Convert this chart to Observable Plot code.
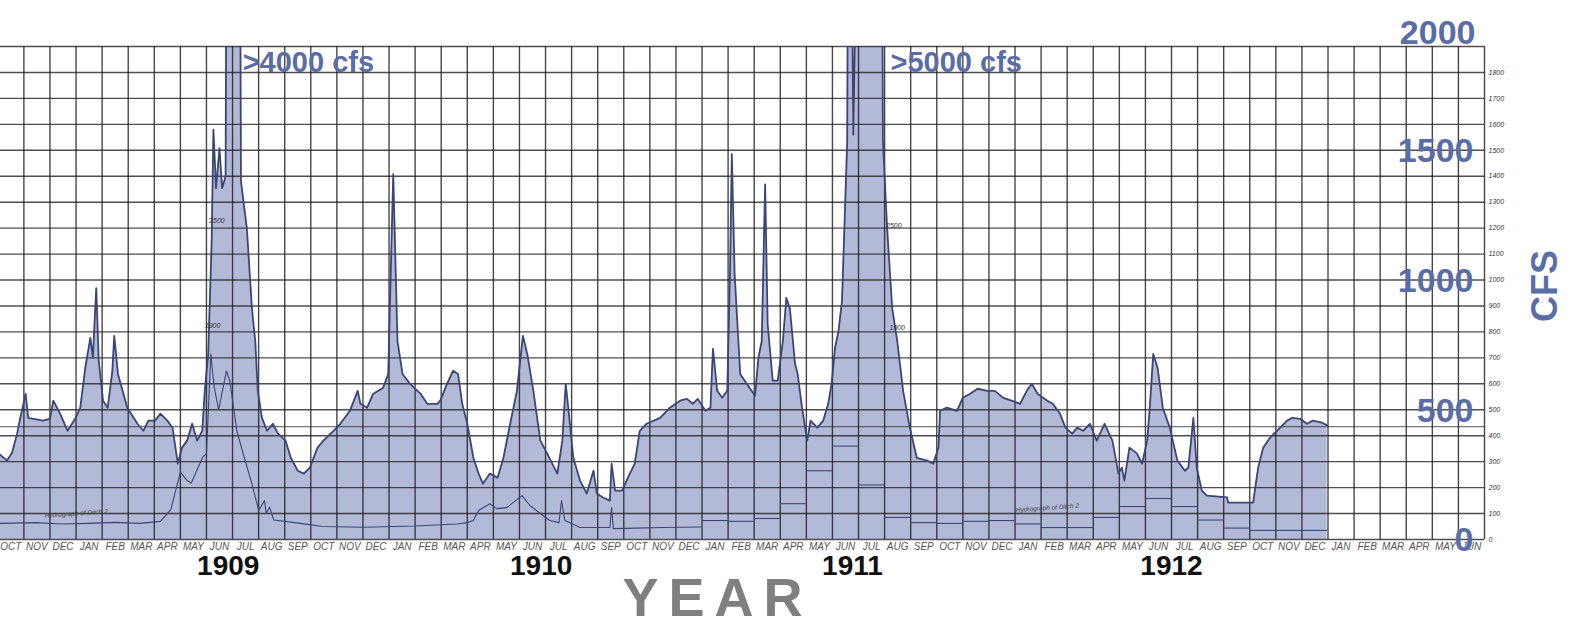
<!DOCTYPE html>
<html><head><meta charset="utf-8">
<script src="https://cdn.jsdelivr.net/npm/d3@7"></script>
<script src="https://cdn.jsdelivr.net/npm/@observablehq/plot@0.6"></script>
<style>body{margin:0;background:#fff;} svg{display:block}</style>
</head><body><div id="chart"></div>
<script>
// ---- month / year labels ----
const monthNames = ["OCT","NOV","DEC","JAN","FEB","MAR","APR","MAY","JUN","JUL","AUG","SEP"];
const monthCount = 57; // Oct 1908 .. Jun 1913
const yearLabels = ["1909","1910","1911","1912"];
const yearLabelDates = ["1909-06-26","1910-06-26","1911-06-24","1912-07-01"];
const cfsGrid = d3.range(0, 2000, 100);
const cfsTickLabels = d3.range(0, 1900, 100);
const bigCfsLabels = [1500, 1000, 500, 0];

// ---- main hydrograph (daily discharge, cfs) ----
const mainDates = ["1908-10-02","1908-10-12","1908-10-18","1908-10-24","1908-10-27","1908-11-03","1908-11-06","1908-11-12","1908-11-23","1908-12-01","1908-12-05","1908-12-13","1908-12-22","1908-12-31",
"1909-01-06","1909-01-12","1909-01-18","1909-01-21","1909-01-25","1909-01-28","1909-02-02","1909-02-07","1909-02-12","1909-02-14","1909-02-18","1909-02-28","1909-03-12","1909-03-19","1909-03-25","1909-04-02","1909-04-08","1909-04-16","1909-04-22","1909-04-28","1909-05-03","1909-05-09","1909-05-15","1909-05-21","1909-05-27","1909-05-30","1909-06-03","1909-06-07","1909-06-09","1909-06-12","1909-06-16","1909-06-19","1909-06-23","1909-06-26","1909-07-08","1909-07-11","1909-07-18","1909-07-24","1909-07-28","1909-07-31","1909-08-05","1909-08-11","1909-08-18","1909-08-24","1909-09-02","1909-09-08","1909-09-16","1909-09-23","1909-09-30","1909-10-09","1909-10-16","1909-10-28","1909-11-05","1909-11-16","1909-11-25","1909-11-28","1909-12-06","1909-12-13","1909-12-25","1909-12-31",
"1910-01-06","1910-01-11","1910-01-17","1910-01-26","1910-02-07","1910-02-14","1910-02-25","1910-02-28","1910-03-08","1910-03-15","1910-03-21","1910-03-26","1910-04-01","1910-04-08","1910-04-14","1910-04-19","1910-04-27","1910-05-06","1910-05-13","1910-05-21","1910-05-29","1910-06-05","1910-06-10","1910-06-17","1910-06-25","1910-07-03","1910-07-15","1910-07-21","1910-07-25","1910-07-28","1910-08-03","1910-08-11","1910-08-19","1910-08-27","1910-08-31","1910-09-07","1910-09-15","1910-09-17","1910-09-21","1910-09-29","1910-10-06","1910-10-14","1910-10-20","1910-10-28","1910-11-13","1910-11-24","1910-12-06","1910-12-14","1910-12-21","1910-12-27",
"1911-01-05","1911-01-11","1911-01-14","1911-01-19","1911-01-25","1911-01-31","1911-02-03","1911-02-05","1911-02-08","1911-02-14","1911-02-21","1911-03-02","1911-03-06","1911-03-10","1911-03-14","1911-03-17","1911-03-23","1911-03-29","1911-04-04","1911-04-08","1911-04-12","1911-04-18","1911-04-21","1911-04-26","1911-05-02","1911-05-06","1911-05-14","1911-05-21","1911-05-27","1911-05-31","1911-06-04","1911-06-08","1911-06-12","1911-06-18","1911-06-20","1911-06-25","1911-06-30","1911-07-03","1911-07-26","1911-07-30","1911-08-04","1911-08-10","1911-08-16","1911-08-23","1911-08-31","1911-09-08","1911-09-20","1911-09-27","1911-10-03","1911-10-05","1911-10-13","1911-10-25","1911-11-01","1911-11-09","1911-11-18","1911-11-29","1911-12-08","1911-12-18","1911-12-28",
"1912-01-07","1912-01-15","1912-01-21","1912-01-28","1912-02-08","1912-02-14","1912-02-22","1912-02-28","1912-03-07","1912-03-13","1912-03-20","1912-03-28","1912-04-05","1912-04-14","1912-04-23","1912-04-30","1912-05-04","1912-05-07","1912-05-13","1912-05-22","1912-05-28","1912-06-03","1912-06-06","1912-06-10","1912-06-15","1912-06-21","1912-06-29","1912-07-08","1912-07-17","1912-07-21","1912-07-27","1912-07-31","1912-08-06","1912-08-12","1912-09-05","1912-09-06","1912-10-05","1912-10-11","1912-10-17","1912-10-25","1912-11-06","1912-11-14","1912-11-20","1912-11-29","1912-12-07","1912-12-14","1912-12-25","1912-12-31"];
const mainCfs = [331,304,335,408,458,561,469,465,458,465,535,485,419,465,
508,662,777,700,969,688,535,508,650,785,638,508,446,419,458,458,485,458,431,292,354,381,446,381,419,573,715,1150,1580,1354,1508,1354,1400,4200,4200,1380,1200,892,765,573,469,419,446,408,381,315,265,254,277,354,381,419,446,496,573,523,508,561,585,638,
1408,765,638,600,561,523,523,535,600,650,638,523,446,315,254,215,254,238,315,446,573,785,715,573,381,331,254,381,600,508,315,227,177,265,177,162,150,292,188,188,238,292,419,446,469,508,535,542,523,542,
496,508,735,573,546,573,1023,1485,1023,638,600,554,700,765,1369,831,612,612,765,931,892,677,638,508,381,458,431,458,523,600,738,804,919,1535,3500,1560,2600,5200,5200,1535,1200,892,765,573,431,315,304,292,354,496,508,496,546,561,581,573,573,546,535,
523,573,600,561,535,523,485,431,408,431,419,446,381,446,381,254,277,227,354,331,292,381,508,715,662,508,431,304,265,277,469,277,188,169,162,142,142,277,354,392,431,458,469,465,446,458,450,440];

// ---- lower curve (drawn inside the fill) ----
const lowerDates = ["1908-10-02","1908-11-15","1908-12-15","1909-01-15","1909-02-15","1909-03-15","1909-04-08","1909-04-20","1909-05-01","1909-05-09","1909-05-14","1909-05-21","1909-05-28","1909-06-01","1909-06-06","1909-06-10","1909-06-15","1909-06-24","1909-06-28","1909-07-06","1909-07-15","1909-07-24","1909-08-01","1909-08-08","1909-08-10","1909-08-14","1909-08-19","1909-09-19","1909-10-15","1909-12-01","1910-02-01","1910-03-20","1910-04-01","1910-04-08","1910-04-14","1910-04-27","1910-05-05","1910-05-17","1910-06-04","1910-06-13","1910-06-25","1910-07-06","1910-07-17","1910-07-20","1910-07-24","1910-08-11","1910-09-15","1910-09-17","1910-09-19","1910-10-15","1910-11-15","1910-12-31"];
const lowerCfs = [62,65,60,62,66,62,70,115,260,227,218,270,320,330,715,585,500,650,610,420,315,215,112,150,100,125,75,62,50,47,52,60,65,73,112,138,119,123,169,131,100,73,65,150,73,46,46,123,42,44,46,48];

// ---- monthly steps 1911-1912 ----
const stepMonths = ["1911-01","1911-02","1911-03","1911-04","1911-05","1911-06","1911-07","1911-08","1911-09","1911-10","1911-11","1911-12","1912-01","1912-02","1912-03","1912-04","1912-05","1912-06","1912-07","1912-08","1912-09","1912-10","1912-11","1912-12"];
const stepCfs = [73,70,81,138,265,360,210,85,65,62,70,73,60,46,46,85,127,158,127,75,44,35,35,35];

// ---- annotations ----
const peakNotes = [{date:"1909-07-13", cfs:1838, label:">4000 cfs"},{date:"1911-08-08", cfs:1838, label:">5000 cfs"}];
const smallNotes = [{date:"1909-06-13", cfs:1230, label:"2500"},{date:"1909-06-08", cfs:825, label:"1900"},{date:"1911-08-12", cfs:1210, label:"2500"},{date:"1911-08-16", cfs:815, label:"1900"}];
const ditchNotes = [{date:"1909-01-01", cfs:100, label:"Hydrograph of Ditch 2"},{date:"1912-02-08", cfs:122, label:"Hydrograph of Ditch 2"}];

function toIdx(s) {
  const [y, m, d] = s.split("-").map(Number);
  const dim = new Date(Date.UTC(y, m, 0)).getUTCDate();
  return (y - 1908) * 12 + (m - 10) + ((d || 1) - 1) / dim;
}

const main = mainDates.map((d, i) => ({t: toIdx(d), cfs: mainCfs[i]}));
const lower = lowerDates.map((d, i) => ({t: toIdx(d), cfs: lowerCfs[i]}));
const steps = stepMonths.map((m, i) => ({t1: toIdx(m + "-01"), t2: toIdx(m + "-01") + 1, cfs: stepCfs[i]}));
const monthLabels = d3.range(monthCount).map(k => ({mid: k + 0.5, label: monthNames[k % 12]}));
const monthStarts = d3.range(1, monthCount + 1);
const years = yearLabels.map((y, i) => ({t: toIdx(yearLabelDates[i]), label: y}));

const blue = "#5b6da6";
const ink = "#3a4675";

const chart = Plot.plot({
  width: 1581, height: 625,
  marginLeft: 0, marginRight: 97, marginTop: 46, marginBottom: 86,
  x: {domain: [0.1035, 57], axis: null},
  y: {domain: [0, 1900], axis: null},
  style: {background: "#fff", overflow: "visible", fontFamily: "'Liberation Sans', Arial, sans-serif"},
  marks: [
    Plot.areaY(main, {x: "t", y: "cfs", fill: "#b3bad8", clip: true}),
    Plot.ruleY(cfsGrid, {stroke: "#1e1e1e", strokeWidth: 1.4, strokeOpacity: 0.78}),
    Plot.ruleY([435], {stroke: "#1e1e1e", strokeWidth: 1.1, strokeOpacity: 0.6}),
    Plot.ruleX(monthStarts, {stroke: "#1e1e1e", strokeWidth: 1.4, strokeOpacity: 0.82}),
    Plot.ruleY(steps, {x1: "t1", x2: "t2", y: "cfs", stroke: ink, strokeWidth: 1.1}),
    Plot.line(lower, {x: "t", y: "cfs", stroke: ink, strokeWidth: 1.1, clip: true}),
    Plot.line(main, {x: "t", y: "cfs", stroke: ink, strokeWidth: 1.8, clip: true}),
    Plot.axisY(cfsTickLabels, {anchor: "right", tickSize: 0, tickPadding: 4, fontSize: 7, fontStyle: "italic", fill: "#333", label: null, tickFormat: d => String(d)}),
    Plot.text(monthLabels, {x: "mid", y: () => 0, text: "label", dy: 7, fontSize: 10, fontStyle: "italic", fill: "#555"}),
    Plot.text(years, {x: "t", y: () => 0, text: "label", dy: 27, fontSize: 28, fontWeight: "bold", fill: "#111"}),
    Plot.text(bigCfsLabels, {y: d => d, text: d => String(d), frameAnchor: "right", textAnchor: "end", dx: -11, dy: 1, fontSize: 34, fontWeight: "bold", fill: blue}),
    Plot.text([2000], {y: d => d, text: d => String(d), frameAnchor: "right", textAnchor: "end", dx: -9, dy: 13, fontSize: 34, fontWeight: "bold", fill: blue}),
    Plot.text(["CFS"], {frameAnchor: "right", textAnchor: "middle", lineAnchor: "middle", rotate: -90, dx: 61, dy: -7, fontSize: 36, fontWeight: "bold", fill: blue}),
    Plot.text(peakNotes, {x: d => toIdx(d.date), y: "cfs", text: "label", textAnchor: "start", fontSize: 29, fontWeight: "bold", fill: blue}),
    Plot.text(smallNotes, {x: d => toIdx(d.date), y: "cfs", text: "label", fontSize: 7, fontStyle: "italic", fill: "#333"}),
    Plot.text(ditchNotes, {x: d => toIdx(d.date), y: "cfs", text: "label", fontSize: 6.5, fontStyle: "italic", fill: "#444", rotate: -4}),
    Plot.text(["YEAR"], {frameAnchor: "bottom", textAnchor: "middle", lineAnchor: "middle", dx: -25, dy: 59, fontSize: 54, fontWeight: "bold", fill: "#7f7f7f"})
  ]
});
chart.querySelectorAll("text").forEach(t => { if (t.textContent === "YEAR") t.setAttribute("letter-spacing", "10"); });
document.getElementById("chart").append(chart);
</script>
</body></html>
